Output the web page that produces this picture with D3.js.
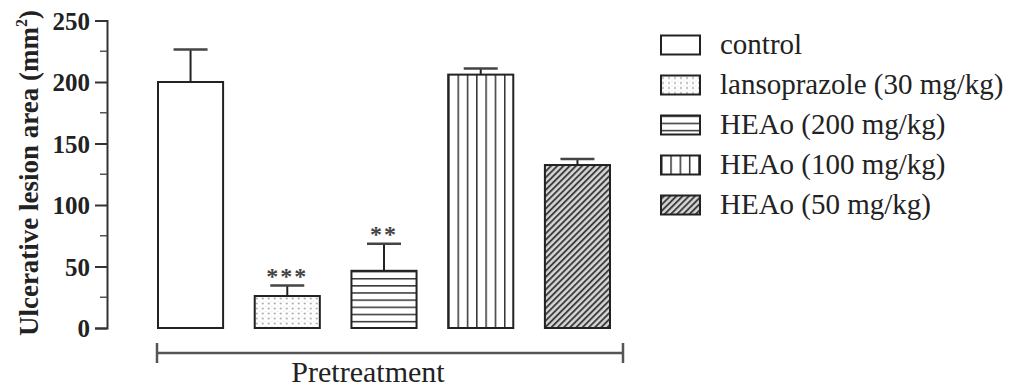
<!DOCTYPE html>
<html>
<head>
<meta charset="utf-8">
<script src="https://cdn.jsdelivr.net/npm/d3@7"></script>
<style>
  html, body { margin: 0; padding: 0; background: #fff; }
  svg { display: block; }
  text { font-family: "Liberation Serif", "Times New Roman", serif; fill: #222; }
</style>
</head>
<body>
<svg id="chart" width="1012" height="388"></svg>
<script>
// Groups, mean lesion area and upper error (SEM)
const groups = ["control", "lansoprazole (30 mg/kg)", "HEAo (200 mg/kg)", "HEAo (100 mg/kg)", "HEAo (50 mg/kg)"];
const means = [200, 26, 46.5, 206, 132.5];
const errors = [26.5, 8.5, 22, 5, 5];
const stars = ["", "***", "**", "", ""];
const fills = ["none", "dots", "hlines", "vlines", "diag"];
const yTicks = [0, 50, 100, 150, 200, 250];
const yMinor = [25, 75, 125, 175, 225];

const serif = '"Liberation Serif", "Times New Roman", serif';
const svg = d3.select("#chart");
const ink = "#222";

const y = d3.scaleLinear().domain([0, 250]).range([328, 20.5]);
const x = d3.scaleBand().domain(groups).range([158, 610]).paddingInner(0.327).paddingOuter(0);

// Fill patterns
const defs = svg.append("defs");
function makePatterns(suffix, ox, oy) {
  const dots = defs.append("pattern").attr("id", "dots" + suffix)
    .attr("patternUnits", "userSpaceOnUse").attr("width", 6).attr("height", 5)
    .attr("x", ox).attr("y", oy);
  dots.append("circle").attr("cx", 2).attr("cy", 2.5).attr("r", 0.9).attr("fill", "#999");
  dots.append("circle").attr("cx", 5).attr("cy", 0).attr("r", 0.6).attr("fill", "#bbb");

  const h = defs.append("pattern").attr("id", "hlines" + suffix)
    .attr("patternUnits", "userSpaceOnUse").attr("width", 10).attr("height", 7.15)
    .attr("x", ox).attr("y", oy);
  h.append("line").attr("x1", 0).attr("x2", 10).attr("y1", 0).attr("y2", 0)
    .attr("stroke", "#333").attr("stroke-width", 3);

  const v = defs.append("pattern").attr("id", "vlines" + suffix)
    .attr("patternUnits", "userSpaceOnUse").attr("width", 9.3).attr("height", 10)
    .attr("x", ox).attr("y", oy);
  v.append("line").attr("x1", 0).attr("x2", 0).attr("y1", 0).attr("y2", 10)
    .attr("stroke", "#333").attr("stroke-width", 3);

  const d = defs.append("pattern").attr("id", "diag" + suffix)
    .attr("patternUnits", "userSpaceOnUse").attr("width", 4.4).attr("height", 10)
    .attr("patternTransform", "rotate(45)");
  d.append("rect").attr("width", 4.4).attr("height", 10).attr("fill", "#d8d8d8");
  d.append("line").attr("x1", 1).attr("x2", 1).attr("y1", 0).attr("y2", 10)
    .attr("stroke", "#3a3a3a").attr("stroke-width", 1.9);
}

// Bars
const bars = svg.append("g");
groups.forEach((g, i) => {
  const bx = x(g), bw = x.bandwidth(), by = y(means[i]), bh = y(0) - y(means[i]);
  let fill = "#fff";
  if (fills[i] !== "none") {
    makePatterns("_b" + i, bx, fills[i] === "hlines" ? y(0) : by);
    fill = `url(#${fills[i]}_b${i})`;
  }
  bars.append("rect").attr("x", bx).attr("y", by).attr("width", bw).attr("height", bh)
    .attr("fill", "#fff");
  bars.append("rect").attr("x", bx).attr("y", by).attr("width", bw).attr("height", bh)
    .attr("fill", fill).attr("stroke", ink).attr("stroke-width", 2);

  // error bar (upper only)
  const cx = bx + bw / 2, top = y(means[i] + errors[i]);
  bars.append("line").attr("x1", cx).attr("x2", cx).attr("y1", by).attr("y2", top)
    .attr("stroke", ink).attr("stroke-width", 2);
  bars.append("line").attr("x1", cx - 17).attr("x2", cx + 17).attr("y1", top).attr("y2", top)
    .attr("stroke", "#444").attr("stroke-width", 2.5);

  if (stars[i]) {
    bars.append("text").attr("x", cx).attr("y", top - 2)
      .attr("text-anchor", "middle").attr("font-size", 24).attr("font-weight", "bold")
      .attr("letter-spacing", 2).style("font-family", serif).style("fill", "#444")
      .text(stars[i]);
  }
});

// Y axis
const axisG = svg.append("g").attr("transform", "translate(107,0)");
axisG.call(d3.axisLeft(y).tickValues(yTicks).tickSize(12).tickPadding(5).tickFormat(d3.format("d")));
axisG.select(".domain").attr("stroke", "#333").attr("stroke-width", 2);
axisG.selectAll(".tick line").attr("stroke", "#333").attr("stroke-width", 2);
axisG.selectAll(".tick text").style("font-family", serif).attr("font-size", 25)
  .attr("font-weight", "bold").style("fill", "#222").attr("dy", "0.34em");
axisG.selectAll(".minor").data(yMinor).enter().append("line")
  .attr("x1", -7).attr("x2", 0).attr("y1", d => y(d)).attr("y2", d => y(d))
  .attr("stroke", "#555").attr("stroke-width", 1.5);

// Y axis title
const yt = svg.append("text").attr("transform", "translate(38,173) rotate(-90)")
  .attr("text-anchor", "middle").attr("font-size", 27).attr("font-weight", "bold")
  .style("font-family", serif);
yt.append("tspan").text("Ulcerative lesion area (mm");
yt.append("tspan").attr("font-size", 16).attr("dy", -11).text("2");
yt.append("tspan").attr("dy", 11).text(")");

// Pretreatment bracket
const bx0 = x(groups[0]) - 1, bx1 = x(groups[groups.length - 1]) + x.bandwidth() + 13;
const br = svg.append("g").attr("stroke", "#555").attr("stroke-width", 2.5);
br.append("line").attr("x1", bx0).attr("x2", bx1).attr("y1", 353).attr("y2", 353);
br.append("line").attr("x1", bx0).attr("x2", bx0).attr("y1", 343).attr("y2", 363);
br.append("line").attr("x1", bx1).attr("x2", bx1).attr("y1", 343).attr("y2", 363);
svg.append("text").attr("x", 368).attr("y", 382)
  .attr("text-anchor", "middle").attr("font-size", 30).style("font-family", serif)
  .text("Pretreatment");

// Legend
const lg = svg.append("g");
groups.forEach((g, i) => {
  const cy = 45 + i * 40;
  let fill = "#fff";
  if (fills[i] !== "none") {
    makePatterns("_l" + i, 661, cy - 9.5);
    fill = `url(#${fills[i]}_l${i})`;
  }
  lg.append("rect").attr("x", 661).attr("y", cy - 9.5).attr("width", 39).attr("height", 19).attr("fill", "#fff");
  lg.append("rect").attr("x", 661).attr("y", cy - 9.5).attr("width", 39).attr("height", 19)
    .attr("fill", fill).attr("stroke", ink).attr("stroke-width", 2);
  lg.append("text").attr("x", 720).attr("y", cy + 9).attr("font-size", 29)
    .style("font-family", serif).text(g);
});
</script>
</body>
</html>
